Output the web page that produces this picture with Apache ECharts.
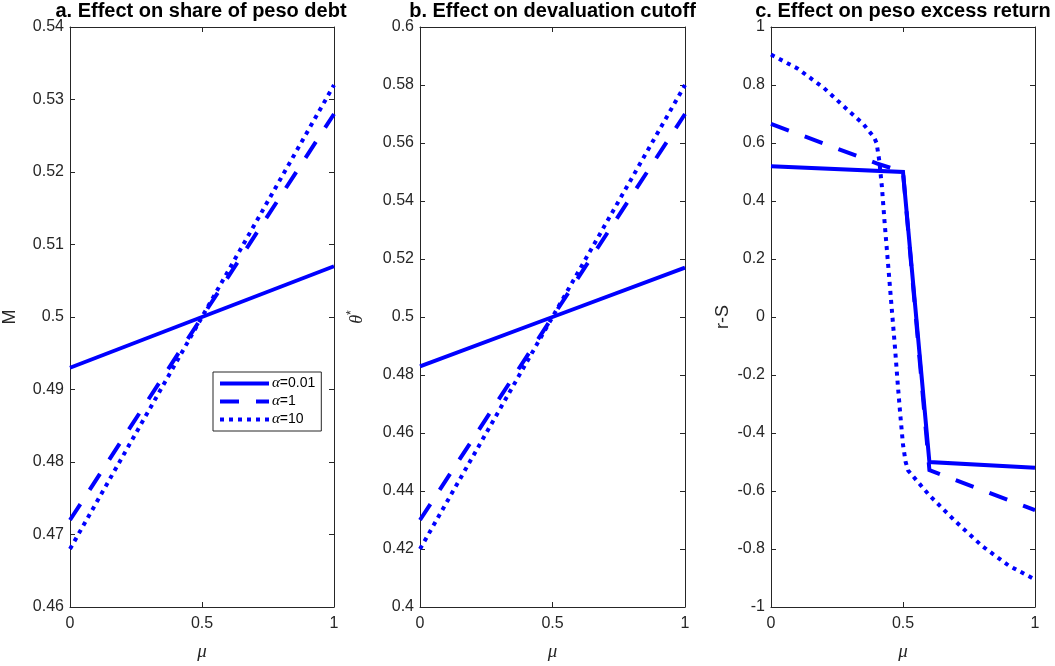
<!DOCTYPE html>
<html lang="en" style="height: 100%">
<head>
  <meta charset="utf-8">
</head>
<body style="height: 100%; margin: 0; background: #fff">
  <div id="container" style="width: 1055px; height: 666px"></div>

  <script type="text/javascript" src="https://cdn.jsdelivr.net/npm/echarts@6/dist/echarts.min.js"></script>

  <script type="text/javascript">
    var dom = document.getElementById('container');
    var myChart = echarts.init(dom, null, { renderer: 'canvas' });

    // series names (alpha values)
    const seriesNames = ['α=0.01', 'α=1', 'α=10'];
    const panelTitles = [
      'a. Effect on share of peso debt',
      'b. Effect on devaluation cutoff',
      'c. Effect on peso excess return'
    ];

    // panels a and b: mu grid and values
    const muAB = [0, 0.5, 1];
    const shareSolid = [0.493, 0.5, 0.507];
    const shareDashed = [0.472, 0.5, 0.528];
    const shareDotted = [0.468, 0.5, 0.532];
    const cutoffSolid = [0.483, 0.5, 0.517];
    const cutoffDashed = [0.43, 0.5, 0.57];
    const cutoffDotted = [0.42, 0.5, 0.58];

    // panel c: [mu, r-S]
    const returnSolid = [[0, 0.52], [0.5, 0.50], [0.6, -0.50], [1, -0.52]];
    const returnDashed = [[0, 0.666], [0.4, 0.53], [0.5, 0.50], [0.6, -0.528], [1, -0.666]];
    const returnDotted = [
      [0, 0.905], [0.1, 0.857], [0.2, 0.79], [0.3, 0.706], [0.35, 0.665], [0.39, 0.62],
      [0.40, 0.60], [0.41, 0.54], [0.42, 0.45], [0.43, 0.33], [0.44, 0.22], [0.45, 0.11],
      [0.46, 0.0], [0.47, -0.11], [0.48, -0.23], [0.49, -0.34], [0.50, -0.44], [0.51, -0.50],
      [0.52, -0.53], [0.6, -0.615], [0.7, -0.706], [0.8, -0.79], [0.9, -0.857], [1, -0.905]
    ];

    const yRanges = [[0.46, 0.54, 0.01], [0.4, 0.6, 0.02], [-1, 1, 0.2]];
    const xTicks = [0, 1, 0.5];

    const axisColor = '#262626';
    const blue = '#0000ff';
    const lineTypes = ['solid', [19, 17], [4, 5]];

    const grids = [
      { left: 68, top: 27, width: 266, height: 582 },
      { left: 420, top: 27, width: 265, height: 582 },
      { left: 771, top: 27, width: 264, height: 582 }
    ];
    const yNames = ['M', '{t|θ}{s|*}', 'r-S'];
    const yNameGaps = [51, 52, 39];

    function pairUp(xs, ys) {
      return xs.map(function (x, i) { return [x, ys[i]]; });
    }

    const panelData = [
      [pairUp(muAB, shareSolid), pairUp(muAB, shareDashed), pairUp(muAB, shareDotted)],
      [pairUp(muAB, cutoffSolid), pairUp(muAB, cutoffDashed), pairUp(muAB, cutoffDotted)],
      [returnSolid, returnDashed, returnDotted]
    ];

    const xAxes = [];
    const yAxes = [];
    const series = [];
    const titles = [];

    grids.forEach(function (g, p) {
      titles.push({
        text: panelTitles[p],
        left: g.left + g.width / 2,
        top: 1,
        padding: 0,
        textAlign: 'center',
        textStyle: { fontFamily: 'Liberation Sans', fontWeight: 'bold', fontSize: 20, color: '#000' }
      });
      ['bottom', 'top'].forEach(function (pos) {
        xAxes.push({
          type: 'value', gridIndex: p, position: pos,
          min: xTicks[0], max: xTicks[1], interval: xTicks[2],
          name: pos === 'bottom' ? 'μ' : '',
          nameLocation: 'middle', nameGap: 35,
          nameTextStyle: { fontFamily: 'Liberation Serif', fontStyle: 'italic', fontSize: 19, color: axisColor },
          axisLine: { show: true, onZero: false, lineStyle: { color: axisColor, width: 1 } },
          axisTick: { show: true, inside: true, length: 5, lineStyle: { color: axisColor } },
          axisLabel: {
            show: pos === 'bottom', margin: 9,
            fontFamily: 'Liberation Sans', fontSize: 16, color: axisColor
          },
          splitLine: { show: false }
        });
      });
      ['left', 'right'].forEach(function (pos) {
        yAxes.push({
          type: 'value', gridIndex: p, position: pos,
          min: yRanges[p][0], max: yRanges[p][1], interval: yRanges[p][2],
          name: pos === 'left' ? yNames[p] : '',
          nameLocation: 'middle', nameGap: yNameGaps[p], nameRotate: 90,
          nameTextStyle: {
            fontFamily: 'Liberation Sans', fontSize: 18, color: axisColor,
            rich: {
              t: { fontFamily: 'Liberation Serif', fontStyle: 'italic', fontSize: 18, color: axisColor },
              s: { fontFamily: 'Liberation Sans', fontSize: 12, color: axisColor, verticalAlign: 'top', padding: [0, 0, 10, 0] }
            }
          },
          axisLine: { show: true, onZero: false, lineStyle: { color: axisColor, width: 1 } },
          axisTick: { show: true, inside: true, length: 5, lineStyle: { color: axisColor } },
          axisLabel: {
            show: pos === 'left', margin: 6,
            fontFamily: 'Liberation Sans', fontSize: 16, color: axisColor
          },
          splitLine: { show: false }
        });
      });
      panelData[p].forEach(function (d, k) {
        series.push({
          name: seriesNames[k],
          type: 'line',
          xAxisIndex: 2 * p,
          yAxisIndex: 2 * p,
          data: d,
          symbol: 'none',
          animation: false,
          lineStyle: { color: blue, width: 4, type: lineTypes[k], cap: 'butt', join: 'miter' },
          itemStyle: { color: blue }
        });
      });
    });

    var option = {
      backgroundColor: '#fff',
      animation: false,
      title: titles,
      grid: grids,
      xAxis: xAxes,
      yAxis: yAxes,
      legend: {
        data: seriesNames,
        orient: 'vertical',
        left: 213,
        top: 372,
        itemWidth: 49,
        itemHeight: 14,
        itemGap: 3,
        padding: [4, 6, 4, 5],
        borderColor: axisColor,
        borderWidth: 1,
        backgroundColor: '#fff',
        selectedMode: false,
        itemStyle: { opacity: 0 },
        lineStyle: { width: 4 },
        formatter: function (name) {
          return '{g|α}' + name.slice(1);
        },
        textStyle: {
          fontFamily: 'Liberation Sans', fontSize: 14, color: '#000', padding: [0, 0, 0, -2],
          rich: {
            g: { fontFamily: 'Liberation Serif', fontStyle: 'italic', fontSize: 15, color: '#000' }
          }
        }
      },
      series: series
    };

    myChart.setOption(option);
    window.addEventListener('resize', myChart.resize);
  </script>
</body>
</html>
